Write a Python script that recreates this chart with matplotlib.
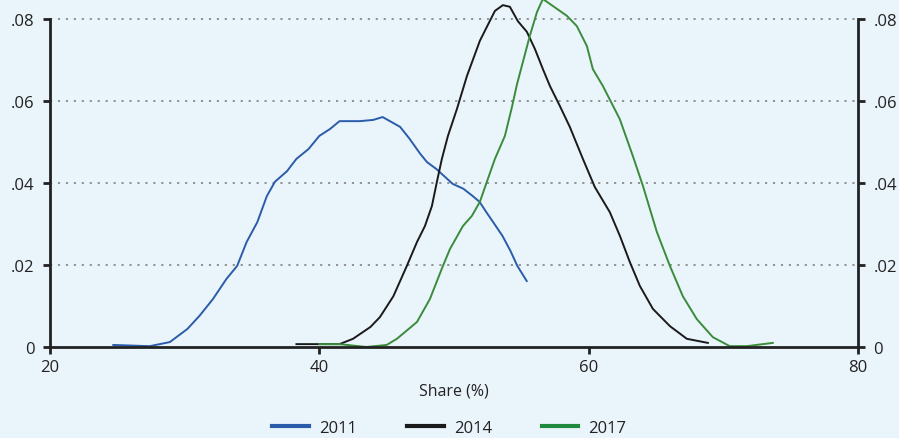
import numpy as np
import matplotlib
matplotlib.use("Agg")
import matplotlib.pyplot as plt

plt.rcParams['font.family'] = ['Open Sans', 'DejaVu Sans']

# density curves: share (%) -> density
x_2011 = [24.7, 27.4, 28.9, 30.2, 31.1, 32.1, 33.1, 33.9, 34.6, 35.4, 36.1, 36.7,
          37.6, 38.3, 39.2, 40.0, 40.8, 41.5, 43.0, 44.0, 44.7, 46.0, 46.7, 47.5,
          48.0, 48.7, 49.5, 49.9, 50.7, 51.4, 51.9, 52.4, 52.9, 53.6, 54.2, 54.7, 55.4]
y_2011 = [0.0005, 0.0002, 0.0012, 0.0044, 0.0076, 0.0117, 0.0166, 0.0198, 0.0256,
          0.0305, 0.0368, 0.0403, 0.0429, 0.0459, 0.0483, 0.0515, 0.0532, 0.0551,
          0.0551, 0.0554, 0.0561, 0.0537, 0.0508, 0.0471, 0.0451, 0.0434, 0.0410,
          0.0398, 0.0386, 0.0368, 0.0354, 0.0329, 0.0305, 0.0271, 0.0234, 0.0198, 0.0161]

x_2014 = [38.3, 41.5, 42.5, 43.8, 44.5, 45.5, 46.5, 47.25, 47.84, 48.36, 48.73, 49.1,
          49.55, 50.22, 50.96, 51.92, 52.44, 53.04, 53.63, 54.15, 54.74, 55.41, 56.01,
          56.6, 57.12, 57.86, 58.6, 59.57, 60.46, 61.57, 62.32, 63.06, 63.8, 64.77,
          66.03, 67.29, 68.85]
y_2014 = [0.0007, 0.0007, 0.0020, 0.0049, 0.0073, 0.0124, 0.0198, 0.0256, 0.0295,
          0.0344, 0.0403, 0.0459, 0.0515, 0.0581, 0.0661, 0.0747, 0.0781, 0.0820,
          0.0834, 0.0830, 0.0795, 0.0769, 0.0727, 0.0678, 0.0637, 0.0588, 0.0537,
          0.0459, 0.0390, 0.0329, 0.0271, 0.0207, 0.0149, 0.0093, 0.0051, 0.0020, 0.0010]

x_2017 = [40.0, 41.5, 43.5, 45.0, 45.76, 47.25, 48.21, 49.18, 49.7, 50.66, 51.33,
          51.92, 52.44, 53.04, 53.78, 54.3, 54.67, 55.04, 55.63, 56.16, 56.6, 57.1,
          57.64, 58.38, 59.12, 59.87, 60.31, 61.05, 62.31, 63.28, 64.03, 65.06, 66.03,
          66.99, 68.03, 69.22, 70.48, 71.74, 73.67]
y_2017 = [0.0007, 0.0007, 0.0000, 0.0005, 0.0020, 0.0061, 0.0117, 0.0198, 0.0239,
          0.0295, 0.0320, 0.0354, 0.0403, 0.0459, 0.0515, 0.0585, 0.0640, 0.0686,
          0.0759, 0.0817, 0.0849, 0.0862, 0.0849, 0.0808, 0.0783, 0.0734, 0.0678,
          0.0637, 0.0556, 0.0466, 0.0393, 0.0281, 0.0198, 0.0124, 0.0068, 0.0024,
          0.0002, 0.0002, 0.0010]

series = [("2011", x_2011, y_2011, "#2a5caa"),
          ("2014", x_2014, y_2014, "#1a1a1a"),
          ("2017", x_2017, y_2017, "#3a8c3a")]
legend_colors = {"2011": "#2a5caa", "2014": "#1a1a1a", "2017": "#1f8a3c"}

y_ticks = [0, 0.02, 0.04, 0.06, 0.08]
y_tick_labels = ["0", ".02", ".04", ".06", ".08"]
x_ticks = [20, 40, 60, 80]

bg = "#eaf4fb"
fig = plt.figure(figsize=(8.99, 4.39), dpi=100, facecolor=bg)
ax = fig.add_axes([50 / 899, 1 - 348 / 439, 808 / 899, 348 / 439])
ax.set_facecolor(bg)

for name, xs, ys, c in series:
    ax.plot(xs, ys, color=c, lw=1.4, solid_joinstyle="round")

ax.set_xlim(20, 80)
ax.set_ylim(0, 0.0849)
ax.set_xticks(x_ticks)
ax.set_yticks(y_ticks)
ax.set_yticklabels(y_tick_labels)

for v in y_ticks[1:]:
    ax.axhline(v, color="#8a8a8a", lw=1.3, ls=(0, (1.2, 3.2)), zorder=0)

for s in ["left", "right"]:
    ax.spines[s].set_bounds(0, 0.08)
    ax.spines[s].set_linewidth(2)
    ax.spines[s].set_color("#222222")
ax.spines["bottom"].set_linewidth(2)
ax.spines["bottom"].set_color("#222222")
ax.spines["top"].set_visible(False)

ax.tick_params(axis="y", left=True, right=True, labelleft=True, labelright=True,
               length=5, width=2, color="#222222", labelsize=12, pad=6,
               labelcolor="#222222")
ax.tick_params(axis="x", length=5, width=2, color="#222222", labelsize=12, pad=4,
               labelcolor="#222222")

ax.set_xlabel("Share (%)", fontsize=11.5, color="#222222", labelpad=5)

handles = [plt.Line2D([], [], color=legend_colors[n], lw=3) for n, _, _, _ in series]
fig.legend(handles, [n for n, _, _, _ in series], loc="lower center",
           bbox_to_anchor=(0.5, -0.03), ncol=3, frameon=False, fontsize=12,
           handlelength=2.2, handletextpad=0.6, columnspacing=3.0,
           labelcolor="#222222")

fig.savefig("out.png", dpi=100, facecolor=bg)
